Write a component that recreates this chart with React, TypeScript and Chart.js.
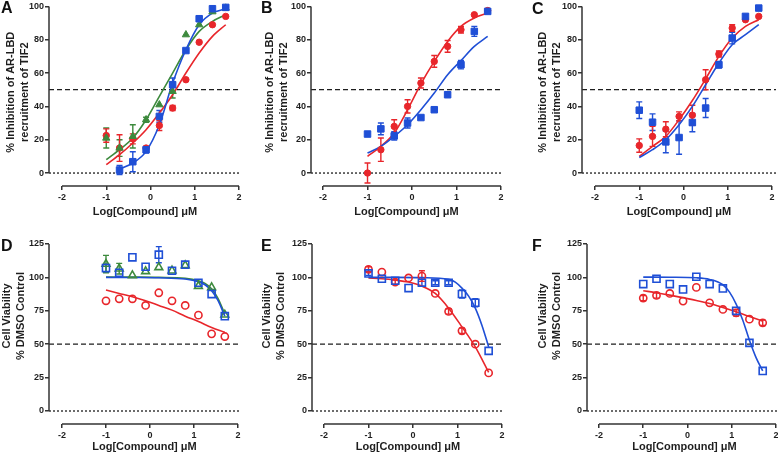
import React, { useEffect, useRef } from "react";
import { Chart, registerables } from "chart.js";

Chart.register(...registerables);
const FONT = "'Liberation Sans', Arial, Helvetica, sans-serif";
Chart.defaults.font.family = FONT;

// ---------- colours ----------
const RED = "#e8262b";
const BLUE = "#1f4fd6";
const GREEN = "#3d8a3d";
const INK = "#1e1e1e";

// ---------- shared axes ----------
const doses = [-1, -0.7, -0.4, -0.1, 0.2, 0.5, 0.8, 1.1, 1.4, 1.7];
const xTicks = [-2, -1, 0, 1, 2];
const yTicksTop = [0, 20, 40, 60, 80, 100];
const yTicksBottom = [0, 25, 50, 75, 100, 125];
const dashedLevel = 50;
const dottedLevel = 0;
const xTitle = "Log[Compound] \u03bcM";
const yTitleTop = ["% Inhibition of AR-LBD", "recruitment of TIF2"];
const yTitleBottom = ["Cell Viability", "% DMSO Control"];

// ---------- Panel A ----------
const aBlueX = [-0.7, -0.4, -0.1, 0.2, 0.5, 0.8, 1.1, 1.4, 1.7];
const aBlue = [1.8, 6.8, 14, 34, 53, 73.5, 92.6, 98.6, 99.4];
const aBlueErr = [2.7, 6, 2, 3.5, 4, 1, 0, 0, 0];
const aRed = [22.5, 15, 20.5, 15, 28.5, 39, 56, 78.5, 89, 94];
const aRedErr = [4, 8, 3, 0, 3, 1.5, 0, 0, 0, 0];
const aGreen = [21, 15, 22, 32, 41, 49, 83, 89, 96.8, 99];
const aGreenErr = [6, 5, 7, 1.5, 0, 4, 0, 0, 0, 0];
const aBlueFitX = [-0.7, -0.4, -0.1, 0.2, 0.5, 0.8, 1.1, 1.4, 1.7];
const aBlueFit = [2.5, 6, 13, 29, 54, 74, 89, 96, 98.6];
const aRedFit = [5, 11, 18, 26, 36, 47, 60, 72, 82, 89];
const aGreenFit = [8, 14, 21, 32, 46, 60, 74, 85, 91, 95];

// ---------- Panel B ----------
const bRed = [0, 14, 28, 40, 54, 67, 76, 86, 95, 97.5];
const bRedErr = [6, 7, 4, 4, 3, 3.5, 3.5, 2, 0, 0];
const bBlue = [23.4, 26.5, 22.3, 30, 33.3, 38, 47, 65, 85, 97];
const bBlueErr = [0, 3.5, 2.5, 3, 0, 0, 0, 2.5, 3, 0];
const bRedFit = [10, 16, 24, 38, 53.5, 67, 79, 88, 93, 96];
const bBlueFit = [12, 16, 22, 29, 38, 48, 59, 67.5, 76, 82];

// ---------- Panel C ----------
const cBlue = [37.7, 30.5, 18.7, 21.3, 30.3, 39, 65, 81, 94, 99];
const cBlueErr = [5, 5, 6.5, 10, 5.5, 5.7, 2, 3.5, 0, 0];
const cRed = [16.5, 22, 26.3, 34, 34.7, 56, 71.4, 87, 92, 94];
const cRedErr = [4, 6, 4.5, 2.7, 6, 6, 1.8, 2, 0, 0];
const cRedFit = [10, 16, 22, 32, 43.5, 56.5, 70, 81, 88, 92];
const cBlueFit = [9.3, 14, 20, 29, 40, 53, 66, 77, 83, 89];

// ---------- Panel D ----------
const dBlue = [107, 103.5, 115, 108, 117, 105, 109.5, 96, 87.5, 71];
const dBlueErr = [3, 0, 0, 0, 6, 0, 0, 0, 0, 0];
const dGreen = [110, 106.5, 101.5, 104.5, 107.5, 105, 109, 93.5, 92.5, 72];
const dGreenErr = [6.5, 4, 0, 0, 0, 0, 0, 0, 0, 0];
const dRed = [82.5, 84, 84, 79, 88.5, 82.5, 79, 71.75, 57.75, 55.75];
const dFitX = [-1, -0.4, 0.2, 0.8, 1.1, 1.25, 1.4, 1.55, 1.7];
const dGreenFit = [100.3, 100.2, 100, 99.3, 97.5, 95.5, 91.5, 84, 72.5];
const dBlueFit = [100, 99.9, 99.7, 98.8, 96.8, 94.5, 90, 82.5, 71];
const dRedFit = [90.5, 88, 85.5, 82.5, 79, 75.5, 71, 67, 62.5, 59];

// ---------- Panel E ----------
const eRed = [106, 104, 96.5, 99.6, 101, 88, 74.5, 60, 50, 28.5];
const eRedErr = [2, 0, 1.5, 0, 4, 0, 2, 2, 0, 0];
const eBlue = [103, 99, 97.5, 92, 96, 96, 96, 87.6, 81, 45];
const eBlueErr = [1.5, 0, 0, 0, 2.5, 1.5, 1.5, 3, 3, 0];
const eBlueFitX = [-1, -0.4, 0.2, 0.8, 0.95, 1.1, 1.25, 1.4, 1.55, 1.7];
const eBlueFit = [100, 100, 99.8, 98.5, 96.5, 92, 86, 77, 64, 48];
const eRedFit = [99.5, 99, 98, 96.5, 93.5, 88, 77, 63, 48, 29];

// ---------- Panel F ----------
const fBlue = [95, 99, 95, 91, 100.5, 95, 91.75, 75, 51, 30];
const fRed = [84.5, 86.5, 88, 82.25, 92.5, 81, 76, 73.5, 68.75, 66];
const fRedErr = [2, 2, 0, 0, 0, 0, 0, 2.5, 0, 2];
const fBlueFitX = [-1, -0.4, 0.2, 0.5, 0.8, 0.95, 1.1, 1.25, 1.4, 1.55, 1.7];
const fBlueFit = [100.2, 100.1, 99.7, 98.5, 94.5, 89, 80, 68, 53, 40, 30];
const fRedFit = [90, 88.5, 86.75, 84.75, 82.75, 80.5, 77.5, 74.25, 70.75, 67.25];

type Shape = "rect" | "circle" | "triangle";
type Series = { x: number[]; y: number[]; err?: number[]; color: string; shape: Shape; filled: boolean };
type Fit = { x: number[]; y: number[]; color: string };
type Panel = {
  letter: string;
  letterLeft: number;
  letterTop: number;
  left: number;
  top: number;
  width: number;
  height: number;
  chartLeft: number;
  chartRight: number;
  chartTop: number;
  chartBottom: number;
  xMin: number;
  xMax: number;
  yMin: number;
  yMax: number;
  yTicks: number[];
  yTitle: string[];
  yTitlePad: number;
  yTitleShift: number;
  xTitlePad: number;
  series: Series[];
  fits: Fit[];
};

const TOP = {
  top: 0, height: 222, chartTop: 6, chartBottom: 186, yMin: -7.78, yMax: 100,
  yTicks: yTicksTop, yTitle: yTitleTop, xTitlePad: 3, yTitleShift: -4,
};
const BOT = {
  top: 225, height: 229, chartTop: 19, chartBottom: 199, yMin: -9.73, yMax: 125,
  yTicks: yTicksBottom, yTitle: yTitleBottom, xTitlePad: 0, yTitleShift: -18,
};

const panels: Panel[] = [
  {
    ...TOP, letter: "A", letterLeft: 1, letterTop: 0, left: 0, width: 262, chartLeft: 49, chartRight: 241,
    xMin: -2.294, xMax: 2.045, yTitlePad: 4,
    series: [
      { x: aBlueX, y: aBlue, err: aBlueErr, color: BLUE, shape: "rect", filled: true },
      { x: doses, y: aGreen, err: aGreenErr, color: GREEN, shape: "triangle", filled: true },
      { x: doses, y: aRed, err: aRedErr, color: RED, shape: "circle", filled: true },
    ],
    fits: [
      { x: aBlueFitX, y: aBlueFit, color: BLUE },
      { x: doses, y: aRedFit, color: RED },
      { x: doses, y: aGreenFit, color: GREEN },
    ],
  },
  {
    ...TOP, letter: "B", letterLeft: 261, letterTop: 0, left: 260, width: 262, chartLeft: 51, chartRight: 242,
    xMin: -2.27, xMax: 2.022, yTitlePad: 3,
    series: [
      { x: doses, y: bBlue, err: bBlueErr, color: BLUE, shape: "rect", filled: true },
      { x: doses, y: bRed, err: bRedErr, color: RED, shape: "circle", filled: true },
    ],
    fits: [
      { x: doses, y: bBlueFit, color: BLUE },
      { x: doses, y: bRedFit, color: RED },
    ],
  },
  {
    ...TOP, letter: "C", letterLeft: 532, letterTop: 1, left: 518, width: 266, chartLeft: 64, chartRight: 258,
    xMin: -2.294, xMax: 2.09, yTitlePad: 18,
    series: [
      { x: doses, y: cBlue, err: cBlueErr, color: BLUE, shape: "rect", filled: true },
      { x: doses, y: cRed, err: cRedErr, color: RED, shape: "circle", filled: true },
    ],
    fits: [
      { x: doses, y: cBlueFit, color: BLUE },
      { x: doses, y: cRedFit, color: RED },
    ],
  },
  {
    ...BOT, letter: "D", letterLeft: 1, letterTop: 238, left: 0, width: 262, chartLeft: 49, chartRight: 240,
    xMin: -2.295, xMax: 2.045, yTitlePad: 0,
    series: [
      { x: doses, y: dRed, color: RED, shape: "circle", filled: false },
      { x: doses, y: dBlue, err: dBlueErr, color: BLUE, shape: "rect", filled: false },
      { x: doses, y: dGreen, err: dGreenErr, color: GREEN, shape: "triangle", filled: false },
    ],
    fits: [
      { x: doses, y: dRedFit, color: RED },
      { x: dFitX, y: dBlueFit, color: BLUE },
      { x: dFitX, y: dGreenFit, color: GREEN },
    ],
  },
  {
    ...BOT, letter: "E", letterLeft: 261, letterTop: 238, left: 260, width: 262, chartLeft: 52, chartRight: 244,
    xMin: -2.27, xMax: 2.045, yTitlePad: 0,
    series: [
      { x: doses, y: eBlue, err: eBlueErr, color: BLUE, shape: "rect", filled: false },
      { x: doses, y: eRed, err: eRedErr, color: RED, shape: "circle", filled: false },
    ],
    fits: [
      { x: eBlueFitX, y: eBlueFit, color: BLUE },
      { x: doses, y: eRedFit, color: RED },
    ],
  },
  {
    ...BOT, letter: "F", letterLeft: 532, letterTop: 238, left: 518, width: 272, chartLeft: 69, chartRight: 264,
    xMin: -2.271, xMax: 2.136, yTitlePad: 18,
    series: [
      { x: doses, y: fBlue, color: BLUE, shape: "rect", filled: false },
      { x: doses, y: fRed, err: fRedErr, color: RED, shape: "circle", filled: false },
    ],
    fits: [
      { x: fBlueFitX, y: fBlueFit, color: BLUE },
      { x: doses, y: fRedFit, color: RED },
    ],
  },
];

const decorPlugin = {
  id: "decor",
  beforeDatasetsDraw(chart: any) {
    const { ctx, chartArea, scales } = chart;
    const xs = scales.x;
    const ys = scales.y;
    const opts = chart.options.plugins.decor;
    const yt: number[] = opts.yTicks;
    ctx.save();
    // reference lines
    ctx.strokeStyle = INK;
    ctx.lineWidth = 1.3;
    ctx.setLineDash([5, 3]);
    const y50 = ys.getPixelForValue(dashedLevel);
    ctx.beginPath();
    ctx.moveTo(chartArea.left, y50);
    ctx.lineTo(chartArea.right, y50);
    ctx.stroke();
    ctx.setLineDash([2, 2]);
    const y0 = ys.getPixelForValue(dottedLevel);
    ctx.beginPath();
    ctx.moveTo(chartArea.left, y0);
    ctx.lineTo(chartArea.right, y0);
    ctx.stroke();
    ctx.setLineDash([]);
    // axis lines
    ctx.strokeStyle = "#333";
    ctx.lineWidth = 1.5;
    ctx.beginPath();
    ctx.moveTo(chartArea.left, ys.getPixelForValue(yt[0]));
    ctx.lineTo(chartArea.left, ys.getPixelForValue(yt[yt.length - 1]));
    ctx.stroke();
    ctx.beginPath();
    ctx.moveTo(xs.getPixelForValue(xTicks[0]), chartArea.bottom);
    ctx.lineTo(xs.getPixelForValue(xTicks[xTicks.length - 1]), chartArea.bottom);
    ctx.stroke();
    // y-axis title (two rotated lines)
    const lines: string[] = opts.yTitle;
    const cy = (chartArea.top + chartArea.bottom) / 2 + opts.yTitleShift;
    ctx.fillStyle = INK;
    ctx.font = `bold 11px ${FONT}`;
    ctx.textAlign = "center";
    ctx.textBaseline = "middle";
    lines.forEach((t, i) => {
      ctx.save();
      ctx.translate(opts.yTitlePad + 7 + i * 14, cy);
      ctx.rotate(-Math.PI / 2);
      ctx.fillText(t, 0, 0);
      ctx.restore();
    });
    // error bars
    chart.data.datasets.forEach((ds: any) => {
      if (!ds.errorBars) return;
      ctx.strokeStyle = ds.borderColor;
      ctx.lineWidth = 1.4;
      ds.data.forEach((pt: any, j: number) => {
        const e = ds.errorBars[j];
        if (!e) return;
        const px = xs.getPixelForValue(pt.x);
        const pTop = ys.getPixelForValue(pt.y + e);
        const pBot = ys.getPixelForValue(pt.y - e);
        ctx.beginPath();
        ctx.moveTo(px, pTop);
        ctx.lineTo(px, pBot);
        ctx.moveTo(px - 3, pTop);
        ctx.lineTo(px + 3, pTop);
        ctx.moveTo(px - 3, pBot);
        ctx.lineTo(px + 3, pBot);
        ctx.stroke();
      });
    });
    ctx.restore();
  },
};

function radiusFor(shape: Shape, filled: boolean) {
  if (shape === "rect") return filled ? 4.6 : 5;
  if (shape === "triangle") return filled ? 4.2 : 4.5;
  return filled ? 3.2 : 3.6;
}

function PanelChart({ p }: { p: Panel }) {
  const ref = useRef<HTMLCanvasElement | null>(null);
  useEffect(() => {
    if (!ref.current) return;
    const pointSets = p.series.map((s) => ({
      type: "scatter" as const,
      data: s.x.map((x, i) => ({ x, y: s.y[i] })),
      errorBars: s.err,
      pointStyle: s.shape,
      pointRadius: radiusFor(s.shape, s.filled),
      pointBackgroundColor: s.filled ? s.color : "rgba(0,0,0,0)",
      pointBorderColor: s.color,
      pointBorderWidth: s.filled ? 1 : 1.6,
      borderColor: s.color,
      showLine: false,
      clip: false as any,
      order: 1,
    }));
    const fitSets = p.fits.map((f) => ({
      type: "scatter" as const,
      data: f.x.map((x, i) => ({ x, y: f.y[i] })),
      showLine: true,
      pointRadius: 0,
      borderColor: f.color,
      borderWidth: 1.6,
      cubicInterpolationMode: "monotone" as const,
      clip: false as any,
      order: 2,
    }));
    const chart = new Chart(ref.current, {
      type: "scatter",
      data: { datasets: [...pointSets, ...fitSets] as any },
      plugins: [decorPlugin],
      options: {
        animation: false,
        responsive: false,
        events: [],
        layout: { padding: { left: 0, top: p.chartTop, right: p.width - p.chartRight, bottom: 0 } },
        plugins: {
          legend: { display: false },
          tooltip: { enabled: false },
          decor: { yTicks: p.yTicks, yTitle: p.yTitle, yTitlePad: p.yTitlePad, yTitleShift: p.yTitleShift },
        } as any,
        scales: {
          x: {
            type: "linear",
            min: p.xMin,
            max: p.xMax,
            afterBuildTicks: (s: any) => {
              s.ticks = xTicks.map((v) => ({ value: v }));
            },
            afterFit: (s: any) => {
              s.height = p.height - p.chartBottom;
            },
            grid: { drawOnChartArea: false, drawTicks: true, tickLength: 4, color: "#333", lineWidth: 1.5 },
            border: { display: false },
            ticks: { color: INK, font: { size: 9, weight: "bold" }, padding: 2, maxRotation: 0, autoSkip: false },
            title: {
              display: true,
              text: xTitle,
              color: INK,
              font: { size: 11, weight: "bold" },
              padding: { top: 0, bottom: p.xTitlePad },
            },
          },
          y: {
            type: "linear",
            min: p.yMin,
            max: p.yMax,
            afterBuildTicks: (s: any) => {
              s.ticks = p.yTicks.map((v) => ({ value: v }));
            },
            afterFit: (s: any) => {
              s.width = p.chartLeft;
            },
            grid: { drawOnChartArea: false, drawTicks: true, tickLength: 4, color: "#333", lineWidth: 1.5 },
            border: { display: false },
            ticks: { color: INK, font: { size: 9, weight: "bold" }, padding: 1, autoSkip: false },
            title: { display: false },
          },
        },
      } as any,
    });
    return () => chart.destroy();
  }, [p]);
  return (
    <canvas
      ref={ref}
      width={p.width}
      height={p.height}
      style={{ position: "absolute", left: p.left, top: p.top, width: p.width, height: p.height }}
    />
  );
}

export default function App() {
  return (
    <div
      style={{
        position: "fixed",
        left: 0,
        top: 0,
        width: 778,
        height: 454,
        overflow: "hidden",
        background: "#ffffff",
      }}
    >
      {panels.map((p) => (
        <PanelChart key={p.letter} p={p} />
      ))}
      {panels.map((p) => (
        <div
          key={"l" + p.letter}
          style={{
            position: "absolute",
            left: p.letterLeft,
            top: p.letterTop,
            fontFamily: FONT,
            fontWeight: "bold",
            fontSize: 16,
            lineHeight: "16px",
            color: "#111",
          }}
        >
          {p.letter}
        </div>
      ))}
    </div>
  );
}
